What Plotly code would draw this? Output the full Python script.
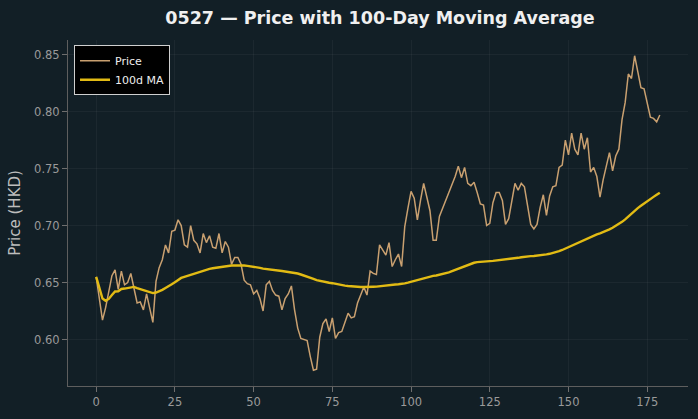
import plotly.graph_objects as go
import pandas as pd

days = list(range(180))
price = [
    0.655, 0.636, 0.617, 0.628, 0.642, 0.656, 0.661, 0.644, 0.660, 0.648,
    0.650, 0.658, 0.645, 0.632, 0.633, 0.626, 0.640, 0.628, 0.615, 0.651,
    0.663, 0.670, 0.683, 0.676, 0.695, 0.696, 0.705, 0.700, 0.683, 0.681,
    0.700, 0.687, 0.684, 0.676, 0.693, 0.685, 0.691, 0.681, 0.680, 0.693,
    0.676, 0.686, 0.681, 0.666, 0.672, 0.672, 0.666, 0.652, 0.649, 0.648,
    0.640, 0.643, 0.636, 0.625, 0.648, 0.651, 0.643, 0.639, 0.638, 0.626,
    0.636, 0.640, 0.647, 0.626, 0.610, 0.601, 0.600, 0.599, 0.585, 0.573,
    0.574, 0.602, 0.614, 0.618, 0.607, 0.619, 0.601, 0.606, 0.607, 0.615,
    0.623, 0.619, 0.620, 0.632, 0.639, 0.646, 0.639, 0.660, 0.658, 0.657,
    0.683, 0.679, 0.674, 0.685, 0.664, 0.670, 0.675, 0.664, 0.699, 0.715,
    0.730, 0.724, 0.705, 0.722, 0.737, 0.725, 0.713, 0.687, 0.687, 0.708,
    0.715, 0.722, 0.728, 0.735, 0.743, 0.752, 0.742, 0.751, 0.737, 0.735,
    0.738, 0.729, 0.719, 0.718, 0.700, 0.702, 0.720, 0.729, 0.729, 0.722,
    0.701, 0.706, 0.721, 0.737, 0.731, 0.737, 0.734, 0.716, 0.701, 0.697,
    0.701, 0.716, 0.727, 0.709, 0.726, 0.734, 0.735, 0.751, 0.753, 0.775,
    0.762, 0.781, 0.767, 0.762, 0.781, 0.767, 0.777, 0.747, 0.751, 0.743,
    0.725, 0.740, 0.752, 0.764, 0.748, 0.761, 0.767, 0.793, 0.808, 0.833,
    0.829, 0.849, 0.835, 0.821, 0.820, 0.808, 0.795, 0.794, 0.791, 0.797,
]
ma_window = 100
ma = pd.Series(price).rolling(ma_window, min_periods=1).mean().tolist()

x_ticks = [0, 25, 50, 75, 100, 125, 150, 175]
y_ticks = [0.60, 0.65, 0.70, 0.75, 0.80, 0.85]

BG = "#121f26"
xpad = (max(days) - min(days)) * 0.05
ylo, yhi = min(min(price), min(ma)), max(max(price), max(ma))
ypad = (yhi - ylo) * 0.05

fig = go.Figure()
fig.add_trace(go.Scatter(x=days, y=price, mode="lines", name="Price",
                         line=dict(color="#c9a070", width=1.5)))
fig.add_trace(go.Scatter(x=days, y=ma, mode="lines", name="100d MA",
                         line=dict(color="#e2bb14", width=2.4)))

axis_common = dict(
    showgrid=True, gridcolor="rgba(255,255,255,0.045)", gridwidth=1,
    zeroline=False, showline=True, linecolor="#5e5e5e", linewidth=1,
    ticks="outside", ticklen=5, tickcolor="#6e6e6e", tickwidth=1,
    tickfont=dict(family="DejaVu Sans", size=11.5, color="#9a9a9a"),
)

fig.update_layout(
    width=698, height=419,
    paper_bgcolor=BG, plot_bgcolor=BG,
    margin=dict(l=68, r=10, t=40, b=33),
    title=dict(text="<b>0527 — Price with 100-Day Moving Average</b>",
               x=380 / 698, xanchor="center", y=0.957, yanchor="middle",
               font=dict(family="DejaVu Sans", size=17.5, color="#f0f0f0")),
    xaxis=dict(range=[min(days) - xpad, max(days) + xpad], tickvals=x_ticks, **axis_common),
    yaxis=dict(range=[ylo - ypad, yhi + ypad], tickvals=y_ticks, tickformat=".2f",
               title=dict(text="Price (HKD)", standoff=9,
                          font=dict(family="DejaVu Sans", size=15, color="#bdbdbd")),
               **axis_common),
    legend=dict(x=0.0097, y=0.985, xanchor="left", yanchor="top",
                bgcolor="#000000", bordercolor="#cfcfcf", borderwidth=1,
                font=dict(family="DejaVu Sans", size=11, color="#eeeeee"),
                tracegroupgap=0, itemwidth=30),
    showlegend=True,
)

fig.write_html("out.html")
